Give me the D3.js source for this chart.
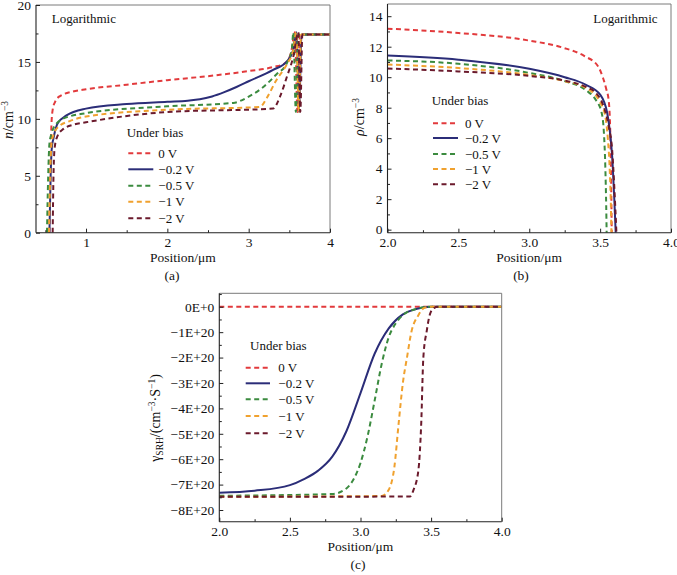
<!DOCTYPE html>
<html><head><meta charset="utf-8">
<script src="https://cdn.jsdelivr.net/npm/d3@7"></script>
<style>
body{margin:0;background:#fff}
svg{display:block}
text{font-family:"Liberation Serif","Times New Roman",serif;fill:#111}
</style>
</head><body><svg id="chart" width="677" height="575"></svg>
<script>
// ---------- shared ----------
const biasLabels = ["0 V", "\u22120.2 V", "\u22120.5 V", "\u22121 V", "\u22122 V"];
const seriesColors = ["#e23a3c", "#2b2d78", "#3b8b3f", "#f0a12e", "#6b1a2c"];
const seriesDash = ["5,3.5", null, "5,3.5", "5,3.5", "5,3.5"];

// ---------- panel (a): n (log) vs position ----------
const aXTicks = [1, 2, 3, 4];
const aXMinor = [0.5, 1.5, 2.5, 3.5];
const aYTicks = [0, 5, 10, 15, 20];
const aYMinor = [2.5, 7.5, 12.5, 17.5];
const aN_0V = [[0.55,0],[0.56,5],[0.575,9.5],[0.59,10.8],[0.62,11.5],[0.68,12.0],[0.84,12.4],[1.0,12.6],[1.5,13.0],[2.0,13.4],[2.5,13.75],[3.0,14.2],[3.3,14.55],[3.45,14.9],[3.52,15.8],[3.57,17.6],[3.6,10.6],[3.63,17.4],[4.0,17.4]];
const aN_02V = [[0.55,0],[0.565,5],[0.58,7.5],[0.6,8.3],[0.65,9.6],[0.76,10.3],[1.0,10.9],[1.5,11.3],[2.0,11.5],[2.25,11.6],[2.4,11.72],[2.55,11.97],[2.7,12.35],[2.85,12.8],[3.0,13.3],[3.3,14.3],[3.47,15.05],[3.55,16.1],[3.59,17.6],[3.62,10.6],[3.65,17.4],[4.0,17.4]];
const aN_05V = [[0.52,0],[0.535,5],[0.55,7.8],[0.58,8.8],[0.64,9.6],[0.7,9.95],[1.0,10.5],[2.0,11.1],[2.81,11.4],[3.0,11.95],[3.18,12.8],[3.34,13.9],[3.47,14.9],[3.53,16.1],[3.55,17.6],[3.58,10.6],[3.61,17.4],[4.0,17.4]];
const aN_1V = [[0.545,0],[0.56,5],[0.575,7.8],[0.6,8.6],[0.66,9.3],[0.8,9.8],[1.0,10.2],[2.0,10.8],[3.14,11.05],[3.22,11.8],[3.34,13.4],[3.47,14.8],[3.55,16.1],[3.585,17.6],[3.615,10.6],[3.645,17.4],[4.0,17.4]];
const aN_2V = [[0.59,0],[0.6,5],[0.615,7.5],[0.65,8.5],[0.72,9.1],[0.85,9.5],[1.0,9.7],[2.0,10.6],[3.3,10.9],[3.385,11.95],[3.47,13.7],[3.55,15.5],[3.61,17.6],[3.635,10.6],[3.66,17.4],[4.0,17.4]];

// ---------- panel (b): rho (log) vs position ----------
const bXTicks = [2.0, 2.5, 3.0, 3.5, 4.0];
const bXMinor = [2.25, 2.75, 3.25, 3.75];
const bYTicks = [0, 2, 4, 6, 8, 10, 12, 14];
const bYMinor = [1, 3, 5, 7, 9, 11, 13];
const bR_0V = [[2.0,13.18],[2.5,12.9],[3.0,12.4],[3.24,11.93],[3.39,11.38],[3.485,10.72],[3.52,9.96],[3.544,9.19],[3.56,8.5],[3.572,6.3],[3.578,3.0],[3.582,-0.2]];
const bR_02V = [[2.0,11.42],[2.5,11.15],[3.0,10.55],[3.25,10.0],[3.4,9.5],[3.5,8.86],[3.55,7.65],[3.57,6.34],[3.585,4.8],[3.6,2.0],[3.61,-0.2]];
const bR_05V = [[2.0,11.1],[2.5,10.88],[3.0,10.28],[3.25,9.74],[3.4,9.15],[3.47,8.5],[3.51,7.7],[3.527,6.3],[3.537,4.0],[3.543,1.5],[3.546,-0.2]];
const bR_1V = [[2.0,10.83],[2.5,10.6],[3.0,10.15],[3.25,9.74],[3.4,9.3],[3.49,8.5],[3.535,7.5],[3.555,5.9],[3.567,4.1],[3.575,1.9],[3.58,-0.2]];
const bR_2V = [[2.0,10.57],[2.5,10.38],[3.0,10.08],[3.25,9.78],[3.4,9.36],[3.47,8.97],[3.52,8.2],[3.56,6.8],[3.585,5.2],[3.6,2.8],[3.615,-0.2]];

// ---------- panel (c): SRH rate (units of 1E+20) vs position ----------
const cXTicks = [2.0, 2.5, 3.0, 3.5, 4.0];
const cXMinor = [2.25, 2.75, 3.25, 3.75];
const cYTicks = [0, -1, -2, -3, -4, -5, -6, -7, -8];
const cYTickLabels = ["0E+0", "\u22121E+20", "\u22122E+20", "\u22123E+20", "\u22124E+20", "\u22125E+20", "\u22126E+20", "\u22127E+20", "\u22128E+20"];
const cYMinor = [0.5, -0.5, -1.5, -2.5, -3.5, -4.5, -5.5, -6.5, -7.5];
const cG_0V = [[2.0,0],[4.0,0]];
const cG_02V = [[2.0,-7.32],[2.25,-7.24],[2.5,-7.02],[2.6,-6.78],[2.7,-6.45],[2.8,-5.9],[2.9,-4.9],[3.0,-3.4],[3.1,-1.85],[3.2,-0.85],[3.3,-0.3],[3.4,-0.08],[3.5,0],[4.0,0]];
const cG_05V = [[2.0,-7.44],[2.8,-7.37],[2.9,-7.15],[2.95,-6.8],[3.0,-6.15],[3.05,-5.1],[3.1,-3.7],[3.15,-2.25],[3.2,-1.2],[3.25,-0.65],[3.3,-0.33],[3.4,-0.08],[3.47,0],[4.0,0]];
const cG_1V = [[2.0,-7.48],[3.15,-7.45],[3.2,-7.2],[3.24,-6.3],[3.27,-4.6],[3.3,-3.0],[3.33,-1.97],[3.36,-1.0],[3.41,-0.33],[3.45,-0.05],[3.5,0],[4.0,0]];
const cG_2V = [[2.0,-7.48],[3.35,-7.47],[3.375,-7.22],[3.41,-6.43],[3.43,-4.6],[3.445,-2.0],[3.47,-0.92],[3.49,-0.33],[3.52,-0.05],[3.55,0],[4.0,0]];

const svg = d3.select("#chart");
const FS = 13.5;
const FONT = "'Liberation Serif','Times New Roman',serif";

function drawPanel(cfg) {
  const g = svg.append("g");
  const x = d3.scaleLinear().domain(cfg.xDomain).range([cfg.left, cfg.right]);
  const y = d3.scaleLinear().domain(cfg.yDomain).range([cfg.bottom, cfg.top]);
  const clipId = "clip-" + cfg.id;
  svg.append("defs").append("clipPath").attr("id", clipId)
    .append("rect").attr("x", cfg.left).attr("y", cfg.top)
    .attr("width", cfg.right - cfg.left).attr("height", cfg.bottom - cfg.top);

  const line = d3.line().x(d => x(d[0])).y(d => y(d[1])).curve(d3.curveMonotoneX);
  const lg = g.append("g").attr("clip-path", `url(#${clipId})`);
  cfg.series.forEach((s, i) => {
    lg.append("path").datum(s).attr("d", line).attr("fill", "none")
      .attr("stroke", seriesColors[i]).attr("stroke-width", 2)
      .attr("stroke-dasharray", seriesDash[i]);
  });

  // frame
  g.append("line").attr("x1", cfg.left).attr("x2", cfg.right).attr("y1", cfg.top).attr("y2", cfg.top).attr("stroke", "#7a7a7a").attr("stroke-width", 1);
  g.append("line").attr("x1", cfg.right).attr("x2", cfg.right).attr("y1", cfg.top).attr("y2", cfg.bottom).attr("stroke", "#7a7a7a").attr("stroke-width", 1);
  g.append("line").attr("x1", cfg.left).attr("x2", cfg.left).attr("y1", cfg.top).attr("y2", cfg.bottom).attr("stroke", "#222").attr("stroke-width", 1.1);
  g.append("line").attr("x1", cfg.left).attr("x2", cfg.right).attr("y1", cfg.bottom).attr("y2", cfg.bottom).attr("stroke", "#222").attr("stroke-width", 1.1);

  // axes
  const xa = g.append("g").attr("transform", `translate(0,${cfg.bottom})`)
    .call(d3.axisBottom(x).tickValues(cfg.xTicks).tickSize(-4).tickPadding(5).tickFormat(cfg.xFmt));
  const xm = g.append("g").attr("transform", `translate(0,${cfg.bottom})`)
    .call(d3.axisBottom(x).tickValues(cfg.xMinor).tickSize(-2.5).tickFormat(""));
  const ya = g.append("g").attr("transform", `translate(${cfg.left},0)`)
    .call(d3.axisLeft(y).tickValues(cfg.yTicks).tickSize(-4).tickPadding(5).tickFormat(cfg.yFmt));
  const ym = g.append("g").attr("transform", `translate(${cfg.left},0)`)
    .call(d3.axisLeft(y).tickValues(cfg.yMinor).tickSize(-2.5).tickFormat(""));
  [xa, xm, ya, ym].forEach(a => {
    a.attr("font-family", FONT);
    a.select(".domain").remove();
    a.selectAll(".tick line").attr("stroke", "#222");
    a.selectAll("text").attr("font-size", FS).attr("fill", "#111").attr("font-family", FONT);
  });

  // x title and caption
  g.append("text").attr("x", (cfg.left + cfg.right) / 2).attr("y", cfg.bottom + 29)
    .attr("text-anchor", "middle").attr("font-size", 13.5).text("Position/\u03bcm");
  g.append("text").attr("x", cfg.captionX).attr("y", cfg.bottom + 47.5)
    .attr("text-anchor", "middle").attr("font-size", 13.5).text(cfg.caption);

  // y title
  const yt = g.append("text").attr("transform", `translate(${cfg.yTitleX},${cfg.yTitleY}) rotate(-90)`)
    .attr("text-anchor", "middle").attr("font-size", 14);
  cfg.yTitle(yt);

  // logarithmic note
  if (cfg.note) {
    g.append("text").attr("x", cfg.note[0]).attr("y", cfg.note[1]).attr("font-size", 13).text("Logarithmic");
  }

  // legend
  const L = cfg.legend;
  g.append("text").attr("x", L.titleX).attr("y", L.titleY + 4.5).attr("font-size", 13).text("Under bias");
  biasLabels.forEach((lab, i) => {
    const yy = L.rows[i];
    g.append("line").attr("x1", L.x1).attr("x2", L.x2).attr("y1", yy).attr("y2", yy)
      .attr("stroke", seriesColors[i]).attr("stroke-width", 2).attr("stroke-dasharray", seriesDash[i]);
    g.append("text").attr("x", L.tx).attr("y", yy + 4.5).attr("font-size", 13).text(lab);
  });
}

function superTitle(t, sym, italic) {
  t.append("tspan").attr("font-style", italic ? "italic" : null).text(sym);
  t.append("tspan").text("/cm");
  t.append("tspan").attr("dy", -5).attr("font-size", 9.5).text("\u22123");
}

drawPanel({
  id: "a", left: 36, right: 330, top: 5, bottom: 232.7,
  xDomain: [0.385, 4], yDomain: [0, 20],
  xTicks: aXTicks, xMinor: aXMinor, yTicks: aYTicks, yMinor: aYMinor,
  xFmt: d3.format("d"), yFmt: d3.format("d"),
  series: [aN_0V, aN_02V, aN_05V, aN_1V, aN_2V],
  caption: "(a)", captionX: 172,
  yTitleX: 13, yTitleY: 120,
  yTitle: t => superTitle(t, "n", true),
  note: [51.7, 22.5],
  legend: { titleX: 126.7, titleY: 132.7, x1: 128.3, x2: 153.3, tx: 158.3, rows: [153.3, 169.3, 185.7, 201.7, 218.3] }
});

drawPanel({
  id: "b", left: 387.5, right: 671, top: 4, bottom: 232.7,
  xDomain: [2, 4], yDomain: [-0.2, 14.8],
  xTicks: bXTicks, xMinor: bXMinor, yTicks: bYTicks, yMinor: bYMinor,
  xFmt: d3.format(".1f"), yFmt: d3.format("d"),
  series: [bR_0V, bR_02V, bR_05V, bR_1V, bR_2V],
  caption: "(b)", captionX: 521,
  yTitleX: 364, yTitleY: 117,
  yTitle: t => superTitle(t, "\u03c1", true),
  note: [593.3, 22.5],
  legend: { titleX: 431.7, titleY: 100, x1: 433, x2: 458, tx: 465, rows: [123.3, 138, 154, 169, 184.3] }
});

drawPanel({
  id: "c", left: 219.3, right: 501.7, top: 293.3, bottom: 521.7,
  xDomain: [2, 4], yDomain: [-8.46, 0.53],
  xTicks: cXTicks, xMinor: cXMinor, yTicks: cYTicks, yMinor: cYMinor,
  xFmt: d3.format(".1f"), yFmt: d => cYTickLabels[cYTicks.indexOf(d)],
  series: [cG_0V, cG_02V, cG_05V, cG_1V, cG_2V],
  caption: "(c)", captionX: 358,
  yTitleX: 160, yTitleY: 418,
  yTitle: t => {
    t.append("tspan").text("\u03b3");
    t.append("tspan").attr("dy", 3).attr("font-size", 9.5).text("SRH");
    t.append("tspan").attr("dy", -3).text("/(cm");
    t.append("tspan").attr("dy", -5).attr("font-size", 9.5).text("\u22123");
    t.append("tspan").attr("dy", 5).text("\u00b7S");
    t.append("tspan").attr("dy", -5).attr("font-size", 9.5).text("\u22121");
    t.append("tspan").attr("dy", 5).text(")");
  },
  note: null,
  legend: { titleX: 250, titleY: 345, x1: 245.7, x2: 270, tx: 278.3, rows: [367.7, 383.3, 399.3, 416, 433.3] }
});
</script>
</body></html>
